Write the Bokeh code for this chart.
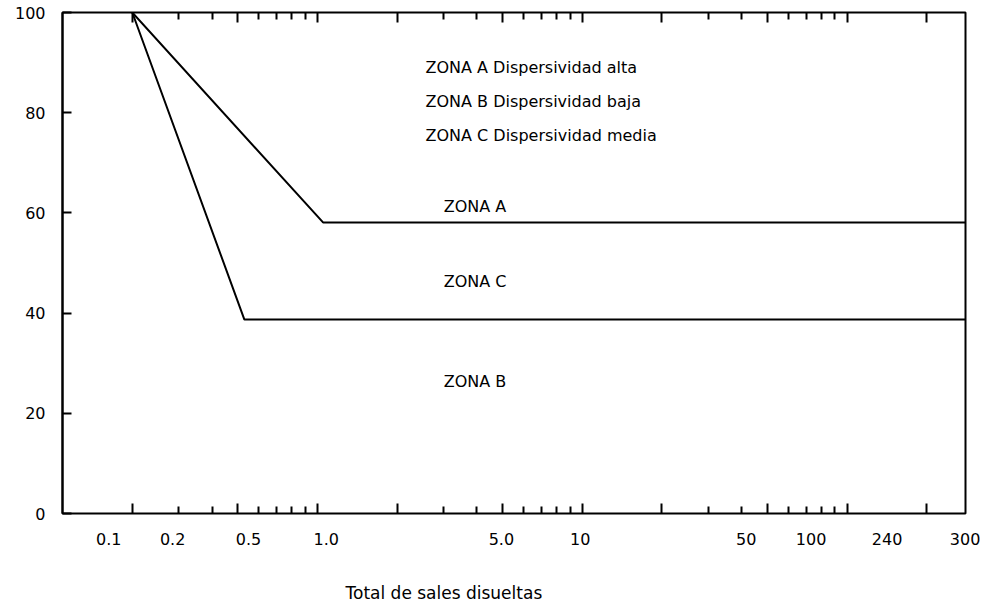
from bokeh.plotting import figure
from bokeh.models import LogAxis, FixedTicker, Range1d, Title
from bokeh.core.properties import value
from bokeh.embed import file_html
from bokeh.resources import INLINE

FONT = "DejaVu Sans"

# ---- data (x on the log scale of the tick marks, y in %) ----
zona_a_x = [0.2, 1.05, 300]
zona_a_y = [100, 58.1, 58.1]
zona_c_x = [0.2, 0.53, 300]
zona_c_y = [100, 38.7, 38.7]

# tick marks of the log axis
long_ticks = [0.2, 0.5, 1, 2, 5, 10, 20, 50, 100, 200]
short_ticks = [0.3, 0.4, 0.6, 0.7, 0.8, 0.9, 3, 4, 6, 7, 8, 9,
               30, 40, 60, 70, 80, 90]
# printed tick labels (as placed in the original drawing)
x_label_pos = [0.163, 0.284, 0.549, 1.08, 4.95, 9.83, 41.6, 73.1, 141.6, 279]
x_label_txt = ["0.1", "0.2", "0.5", "1.0", "5.0", "10", "50", "100", "240", "300"]
y_ticks = [0, 20, 40, 60, 80, 100]

# texts inside the plot
legend_txt = ["ZONA A Dispersividad alta", "ZONA B Dispersividad baja",
              "ZONA C Dispersividad media"]
legend_x = [2.56, 2.56, 2.56]
legend_y = [89.0, 82.2, 75.5]
zone_txt = ["ZONA A", "ZONA C", "ZONA B"]
zone_x = [3.0, 3.0, 3.0]
zone_y = [61.3, 46.3, 26.3]

p = figure(x_axis_type="log", x_axis_location=None,
           x_range=Range1d(0.109, 280), y_range=Range1d(0, 100),
           frame_width=903, frame_height=501,
           min_border_left=62, min_border_right=15, min_border_top=12, min_border_bottom=87,
           output_backend="svg", toolbar_location=None)
p.grid.visible = False
p.outline_line_color = "black"
p.outline_line_width = 2
p.outline_line_alpha = 1


def tick_only_axis(ticks, length):
    ax = LogAxis(ticker=FixedTicker(ticks=[], minor_ticks=ticks))
    ax.major_tick_in = 0
    ax.major_tick_out = 0
    ax.minor_tick_in = length
    ax.minor_tick_out = 0
    ax.minor_tick_line_width = 2
    ax.minor_tick_line_color = "black"
    ax.axis_line_color = None
    ax.major_label_standoff = 0
    return ax


for loc in ("below", "above"):
    p.add_layout(tick_only_axis(long_ticks, 10), loc)
    p.add_layout(tick_only_axis(short_ticks, 7), loc)

# label axis, placed after the tick axes
lab = LogAxis(ticker=FixedTicker(ticks=x_label_pos, minor_ticks=[]))
lab.major_label_overrides = {v: t for v, t in zip(x_label_pos, x_label_txt)}
lab.major_tick_in = 0
lab.major_tick_out = 0
lab.minor_tick_in = 0
lab.minor_tick_out = 0
lab.axis_line_color = None
lab.major_label_standoff = 19
lab.major_label_text_font = FONT
lab.major_label_text_font_size = "16px"
lab.major_label_text_color = "black"
p.add_layout(lab, "below")

ya = p.yaxis[0]
ya.ticker = FixedTicker(ticks=y_ticks)
ya.major_tick_in = 9
ya.major_tick_out = 0
ya.minor_tick_in = 0
ya.minor_tick_out = 0
ya.major_tick_line_width = 2
ya.major_tick_line_color = "black"
ya.axis_line_width = 2
ya.axis_line_color = "black"
ya.major_label_standoff = 17
ya.major_label_text_font = FONT
ya.major_label_text_font_size = "16px"
ya.major_label_text_color = "black"

p.line(zona_a_x, zona_a_y, line_color="black", line_width=2)
p.line(zona_c_x, zona_c_y, line_color="black", line_width=2)

p.text(x=legend_x, y=legend_y, text=legend_txt, text_font=value(FONT),
       text_font_size=value("16px"), text_align="left", text_baseline="alphabetic",
       text_color="black")
p.text(x=zone_x, y=zone_y, text=zone_txt, text_font=value(FONT),
       text_font_size=value("16px"), text_align="left", text_baseline="alphabetic",
       text_color="black")

p.add_layout(Title(text="Total de sales disueltas", align="left", offset=283,
                   standoff=66, text_font=FONT, text_font_size="17px",
                   text_font_style="normal", text_color="black"), "below")

open("out.html", "w").write(file_html(p, INLINE))
